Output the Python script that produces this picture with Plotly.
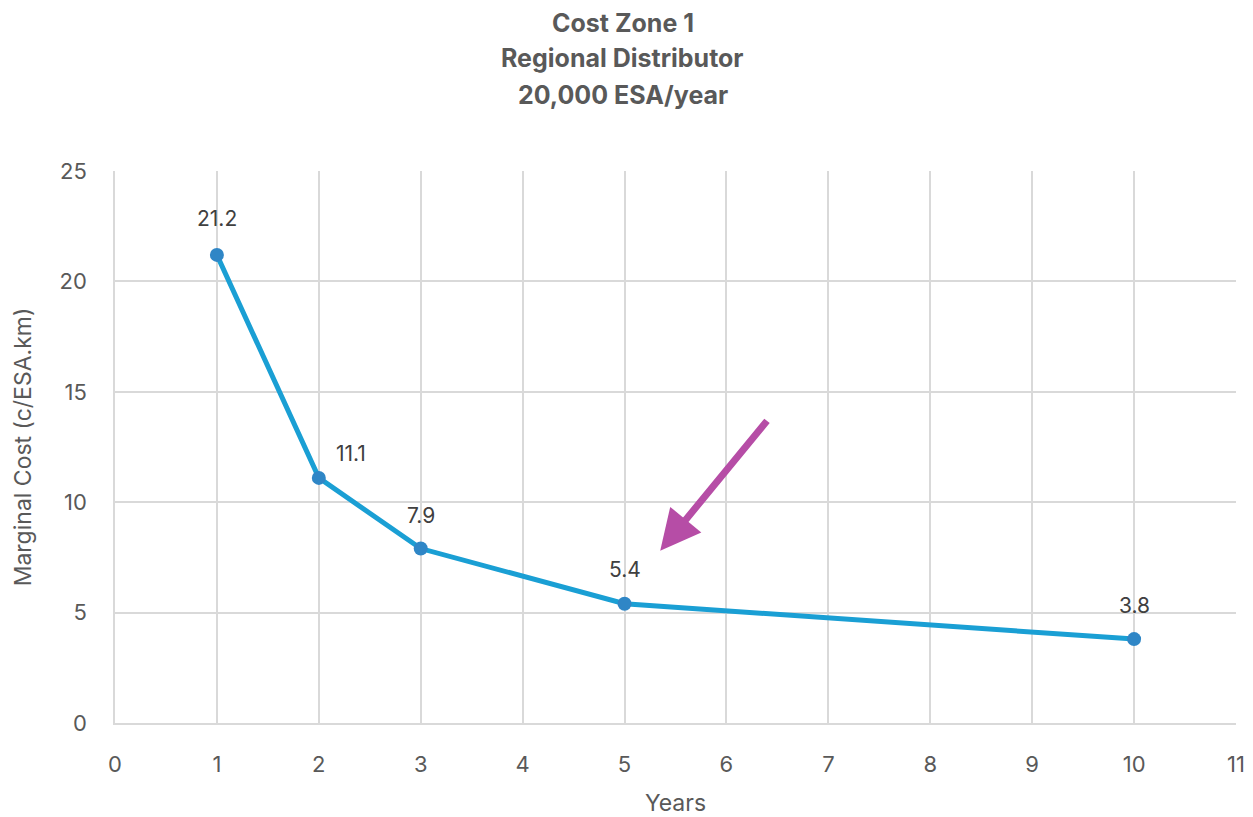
import plotly.graph_objects as go

# Marginal cost by years of operation
years = [1, 2, 3, 5, 10]
marginal_cost = [21.2, 11.1, 7.9, 5.4, 3.8]

title_lines = ["Cost Zone 1", "Regional Distributor", "20,000 ESA/year"]

# label offsets (px) for each value label
label_dx = [0, 32, 0, 0, 0]
label_dy = [36, 24, 33, 34, 34]

FONT = "Inter, Lato, 'Open Sans', sans-serif"
GRID = "#d9d9d9"
TXT = "#595959"

fig = go.Figure()
fig.add_trace(go.Scatter(
    x=years, y=marginal_cost, mode="lines+markers",
    line=dict(color="#1a9fd4", width=5),
    marker=dict(color="#2f86c6", size=14),
    hoverinfo="x+y", showlegend=False,
))

annotations = []
for x, y, dx, dy in zip(years, marginal_cost, label_dx, label_dy):
    annotations.append(dict(
        x=x, y=y, xref="x", yref="y", text=f"{y:.1f}", showarrow=False,
        xshift=dx, yshift=dy, font=dict(family=FONT, size=21, color="#404040"),
    ))

# highlight arrow pointing at year 5
annotations.append(dict(
    x=5.35, y=7.8, ax=6.41, ay=13.75, xref="x", yref="y", axref="x", ayref="y",
    text="", showarrow=True, arrowhead=2, arrowsize=1.15, arrowwidth=7,
    arrowcolor="#b64da6",
))

# chart heading, one line per annotation for wider line spacing
for line, ypos in zip(title_lines, [1.268, 1.204, 1.137]):
    annotations.append(dict(
        xref="paper", yref="paper", x=0.453, y=ypos, xanchor="center", yanchor="middle",
        text=f"<b>{line}</b>", showarrow=False,
        font=dict(family=FONT, size=25, color="#595959"),
    ))

fig.update_layout(
    width=1253, height=817,
    margin=dict(l=115, r=17, t=171, b=94),
    paper_bgcolor="white", plot_bgcolor="white",
    annotations=annotations,
    xaxis=dict(
        range=[0, 11], tick0=0, dtick=1, showgrid=True, gridcolor=GRID, gridwidth=1.5,
        zeroline=False, showline=True, linecolor=GRID, linewidth=1.5, automargin=False,
        tickfont=dict(family=FONT, size=22, color=TXT), ticks="", ticklabelstandoff=21,
        title=dict(text="Years", font=dict(family=FONT, size=23, color=TXT), standoff=26),
    ),
    yaxis=dict(
        range=[0, 25], tick0=0, dtick=5, showgrid=True, gridcolor=GRID, gridwidth=1.5,
        zeroline=False, showline=True, linecolor=GRID, linewidth=1.5, automargin=False,
        tickfont=dict(family=FONT, size=22, color=TXT), ticks="", ticklabelstandoff=22,
        title=dict(text="Marginal Cost (c/ESA.km)", font=dict(family=FONT, size=23, color=TXT), standoff=22),
    ),
)

fig.write_html("out.html")
